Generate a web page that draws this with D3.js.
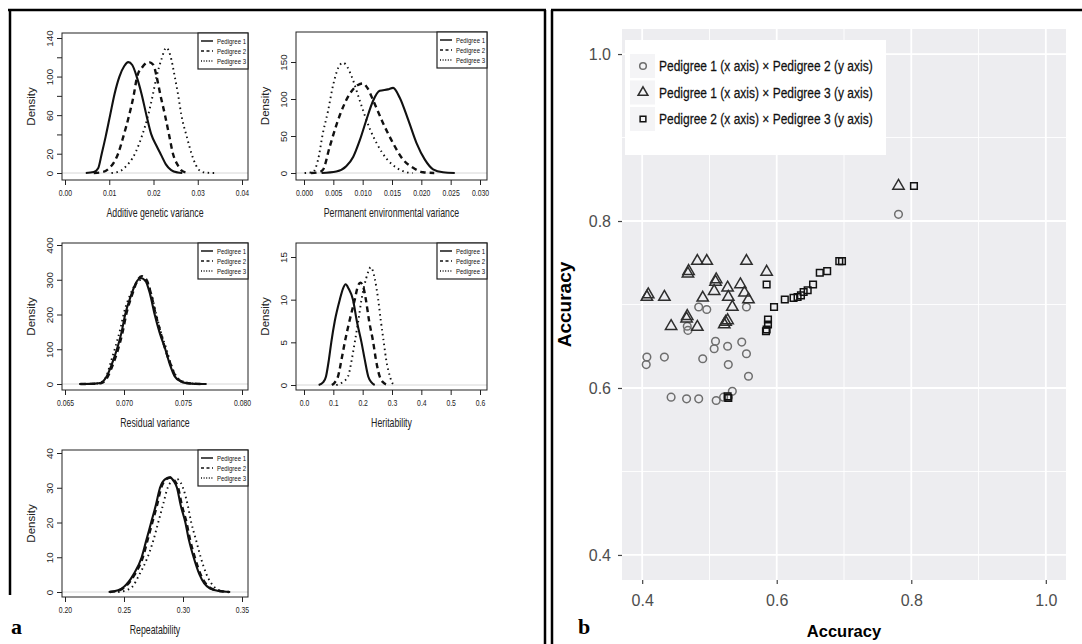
<!DOCTYPE html>
<html>
<head>
<meta charset="utf-8">
<script src="https://cdn.jsdelivr.net/npm/d3@7"></script>
<style>
  body { margin: 0; background: #fff; }
  svg { display: block; font-family: "Liberation Sans", Arial, sans-serif; }
</style>
</head>
<body>
<svg id="fig" width="1082" height="644"></svg>
<script>
// ---- panel a: posterior densities, [value, density] ----
const pedigrees = ['Pedigree 1', 'Pedigree 2', 'Pedigree 3'];

const agvP1 = [[0.0047,0],[0.0065,1],[0.0075,5],[0.0083,20],[0.0092,38],[0.0102,60],[0.0112,82],[0.0123,100],[0.0134,111],[0.0143,115],[0.0152,112],[0.0162,100],[0.0173,82],[0.0184,60],[0.0195,40],[0.0207,28],[0.0218,18],[0.0228,9],[0.0240,3],[0.0255,0.5],[0.0265,0]];
const agvP2 = [[0.0065,0],[0.0085,1],[0.0100,5],[0.0112,12],[0.0120,20],[0.0132,38],[0.0145,60],[0.0155,80],[0.0163,100],[0.0175,110],[0.0190,115],[0.0200,112],[0.0207,100],[0.0216,80],[0.0226,60],[0.0235,40],[0.0244,20],[0.0255,8],[0.0265,2],[0.0280,0]];
const agvP3 = [[0.0105,0],[0.0125,2],[0.0140,8],[0.0152,15],[0.0160,22],[0.0175,40],[0.0188,60],[0.0198,80],[0.0207,100],[0.0218,118],[0.0229,130],[0.0238,122],[0.0248,100],[0.0256,80],[0.0263,60],[0.0275,38],[0.0286,20],[0.0296,8],[0.0306,2],[0.0320,0.3],[0.0340,0]];

const pevP1 = [[0.0030,0],[0.0055,2],[0.0072,9],[0.0084,22],[0.0095,44],[0.0106,71],[0.0118,98],[0.0129,111],[0.0143,113],[0.0152,115],[0.0163,102],[0.0178,71],[0.0192,40],[0.0206,18],[0.0220,5],[0.0237,1],[0.0257,0]];
const pevP2 = [[0.0012,0],[0.0025,1],[0.0032,4],[0.0044,36],[0.0061,78],[0.0078,107],[0.0092,119],[0.0100,121],[0.0108,115],[0.0118,98],[0.0135,67],[0.0152,40],[0.0169,18],[0.0186,7],[0.0203,1],[0.0222,0]];
const pevP3 = [[0.0001,0],[0.0015,1],[0.0024,18],[0.0032,53],[0.0041,84],[0.0050,120],[0.0061,146],[0.0067,149],[0.0074,143],[0.0081,131],[0.0095,98],[0.0112,60],[0.0124,40],[0.0141,19],[0.0158,7],[0.0175,1],[0.0185,0]];

const resP1 = [[0.0662,0],[0.0672,0.5],[0.0680,3],[0.0685,20],[0.0690,60],[0.0694,100],[0.0698,150],[0.0701,200],[0.0706,255],[0.0710,290],[0.0714,305],[0.0718,298],[0.0722,260],[0.0726,200],[0.0730,150],[0.0735,100],[0.0739,55],[0.0743,22],[0.0748,8],[0.0752,3],[0.0760,0.5],[0.0770,0]];
const resP2 = [[0.0663,0],[0.0673,0.5],[0.0681,3],[0.0686,20],[0.0691,60],[0.0695,100],[0.0699,152],[0.0702,202],[0.0707,258],[0.0711,295],[0.0715,310],[0.0719,300],[0.0723,258],[0.0727,198],[0.0731,148],[0.0735,100],[0.0740,52],[0.0744,20],[0.0749,7],[0.0753,3],[0.0761,0.5],[0.0768,0]];
const resP3 = [[0.0664,0],[0.0673,0.5],[0.0680,4],[0.0685,22],[0.0689,65],[0.0693,110],[0.0697,160],[0.0700,205],[0.0705,255],[0.0710,288],[0.0715,300],[0.0719,296],[0.0723,262],[0.0727,205],[0.0731,152],[0.0736,100],[0.0740,55],[0.0744,24],[0.0749,9],[0.0754,3],[0.0762,0.5],[0.0770,0]];

const herP1 = [[0.050,0],[0.065,0.3],[0.075,1],[0.085,3],[0.093,5],[0.105,7.5],[0.122,10],[0.133,11.3],[0.142,11.8],[0.152,11.3],[0.167,10],[0.180,7.5],[0.196,5],[0.207,3],[0.219,1],[0.230,0.3],[0.241,0]];
const herP2 = [[0.095,0],[0.105,0.3],[0.116,1],[0.128,3],[0.139,5],[0.155,7.5],[0.173,10],[0.183,11.5],[0.192,12],[0.202,11.5],[0.211,10],[0.222,7.5],[0.236,5],[0.245,3],[0.258,1],[0.270,0.3],[0.287,0]];
const herP3 = [[0.110,0],[0.130,0.3],[0.150,1],[0.163,3],[0.173,5],[0.185,7.5],[0.196,10],[0.212,12.5],[0.228,13.8],[0.241,12.5],[0.253,10],[0.262,7.5],[0.272,5],[0.280,3],[0.293,1],[0.300,0.3],[0.307,0]];

const repP1 = [[0.237,0],[0.245,0.5],[0.250,1.5],[0.258,5],[0.265,10],[0.269,15],[0.273,20],[0.277,25],[0.2805,30],[0.285,32.5],[0.289,33],[0.292,32],[0.2949,30],[0.298,25],[0.302,20],[0.305,15],[0.309,10],[0.314,5],[0.318,2.5],[0.323,1],[0.330,0.3],[0.340,0]];
const repP2 = [[0.238,0],[0.246,0.5],[0.251,1.5],[0.259,5],[0.266,10],[0.270,15],[0.274,20],[0.278,25],[0.2815,30],[0.286,32.5],[0.290,33],[0.293,32],[0.2959,30],[0.299,25],[0.303,20],[0.306,15],[0.310,10],[0.315,5],[0.319,2.5],[0.324,1],[0.331,0.3],[0.339,0]];
const repP3 = [[0.245,0],[0.252,0.5],[0.257,1.5],[0.263,5],[0.270,10],[0.275,15],[0.279,20],[0.283,25],[0.287,30],[0.291,32],[0.295,32.5],[0.298,31.5],[0.300,30],[0.304,25],[0.307,20],[0.311,15],[0.315,10],[0.320,5],[0.324,2.5],[0.328,1],[0.333,0.3],[0.336,0]];

// ---- panel b: accuracy pairs ----
const seriesNames = ['Pedigree 1 (x axis) \u00d7 Pedigree 2 (y axis)',
                     'Pedigree 1 (x axis) \u00d7 Pedigree 3 (y axis)',
                     'Pedigree 2 (x axis) \u00d7 Pedigree 3 (y axis)'];
const acc12 = [[0.781,0.808],[0.407,0.637],[0.406,0.628],[0.433,0.637],[0.490,0.635],[0.509,0.656],[0.507,0.647],[0.527,0.650],[0.548,0.655],[0.555,0.641],[0.528,0.628],[0.558,0.614],[0.443,0.589],[0.466,0.587],[0.484,0.587],[0.510,0.585],[0.521,0.589],[0.528,0.589],[0.534,0.596],[0.484,0.697],[0.496,0.694],[0.467,0.674],[0.468,0.669],[0.555,0.697]];
const acc13 = [[0.781,0.842],[0.482,0.752],[0.496,0.752],[0.469,0.740],[0.468,0.737],[0.407,0.709],[0.409,0.712],[0.433,0.709],[0.490,0.708],[0.443,0.674],[0.466,0.683],[0.467,0.686],[0.482,0.673],[0.555,0.752],[0.585,0.739],[0.509,0.727],[0.510,0.730],[0.507,0.716],[0.527,0.720],[0.528,0.709],[0.546,0.724],[0.552,0.714],[0.558,0.706],[0.534,0.697],[0.524,0.679],[0.522,0.676],[0.527,0.681]];
const acc23 = [[0.804,0.842],[0.585,0.724],[0.596,0.697],[0.587,0.682],[0.587,0.676],[0.585,0.670],[0.584,0.668],[0.612,0.706],[0.625,0.708],[0.631,0.709],[0.636,0.711],[0.640,0.715],[0.646,0.717],[0.654,0.724],[0.664,0.738],[0.675,0.740],[0.693,0.752],[0.697,0.752],[0.527,0.590],[0.528,0.588]];
const accTicks = [0.4, 0.6, 0.8, 1.0];
const accMinor = [0.5, 0.7, 0.9];

const svg = d3.select('#fig');
const SQ_A = 0.7;   // the left figure is horizontally squeezed

// panel frames
const frame = svg.append('g').attr('stroke', '#000').attr('stroke-width', 2.5);
frame.append('line').attr('x1', 8).attr('x2', 546).attr('y1', 10).attr('y2', 10);
frame.append('line').attr('x1', 10).attr('x2', 10).attr('y1', 10).attr('y2', 595);
frame.append('line').attr('x1', 545).attr('x2', 545).attr('y1', 10).attr('y2', 644);
frame.append('line').attr('x1', 551).attr('x2', 1082).attr('y1', 10).attr('y2', 10);
frame.append('line').attr('x1', 552).attr('x2', 552).attr('y1', 10).attr('y2', 644);

const lineStyles = [
  { w: 2.1, dash: null },
  { w: 2.4, dash: '5.5,4' },
  { w: 1.9, dash: '1.5,3.5' }
];

function densityPlot(p) {
  const g = svg.append('g');
  const [L, T, R, B] = p.box;
  const x = d3.scaleLinear().domain(p.xDom).range(p.xPx);
  const y = d3.scaleLinear().domain(p.yDom).range(p.yPx);

  g.append('line').attr('x1', L).attr('x2', R).attr('y1', y(0)).attr('y2', y(0))
    .attr('stroke', '#d6d6d6').attr('stroke-width', 1);

  const line = d3.line().x(d => x(d[0])).y(d => y(d[1])).curve(d3.curveMonotoneX);
  p.series.forEach((s, i) => {
    g.append('path').attr('d', line(s)).attr('fill', 'none')
      .attr('stroke', '#111').attr('stroke-width', lineStyles[i].w)
      .attr('stroke-dasharray', lineStyles[i].dash);
  });

  g.append('rect').attr('x', L).attr('y', T).attr('width', R - L).attr('height', B - T)
    .attr('fill', 'none').attr('stroke', '#222').attr('stroke-width', 1);

  // x axis
  const xa = g.append('g').attr('transform', `translate(0,${B})`)
    .call(d3.axisBottom(x).tickValues(p.xTicks).tickFormat(d3.format(p.xFmt)).tickSize(5).tickPadding(4));
  xa.select('.domain').remove();
  xa.selectAll('line').attr('stroke', '#222');
  xa.selectAll('text').attr('font-size', 9.8).attr('fill', '#222').attr('font-family', null)
    .attr('transform', `scale(${SQ_A},1)`);

  // y axis, labels rotated like base R
  const ya = g.append('g').attr('transform', `translate(${L},0)`)
    .call(d3.axisLeft(y).tickValues(p.yTicks)
      .tickFormat(d => p.yLabels.includes(d) ? d : '').tickSize(5));
  ya.select('.domain').remove();
  ya.selectAll('line').attr('stroke', '#222');
  ya.selectAll('text').attr('font-size', 9.8).attr('fill', '#222').attr('font-family', null)
    .attr('text-anchor', 'middle').attr('transform', 'rotate(-90)')
    .attr('x', 0).attr('y', -9).attr('dy', 0);

  g.append('text').attr('transform', `translate(${L - 27},${(T + B) / 2}) rotate(-90)`)
    .attr('text-anchor', 'middle').attr('font-size', 11.5).attr('fill', '#222').text('Density');
  g.append('text').attr('transform', `translate(${(L + R) / 2},${B + 37}) scale(${SQ_A},1)`)
    .attr('text-anchor', 'middle').attr('font-size', 12.5).attr('fill', '#222').text(p.xLabel);

  // legend
  const lg = g.append('g').attr('transform', `translate(${R - 50},${T})`);
  lg.append('rect').attr('width', 50).attr('height', 36).attr('fill', '#fff')
    .attr('stroke', '#222').attr('stroke-width', 1.2);
  pedigrees.forEach((name, i) => {
    const yy = 8 + i * 10;
    lg.append('line').attr('x1', 3).attr('x2', 15).attr('y1', yy).attr('y2', yy)
      .attr('stroke', '#111').attr('stroke-width', lineStyles[i].w * 0.7)
      .attr('stroke-dasharray', i === 1 ? '3,2.5' : i === 2 ? '1,1.6' : null);
    lg.append('text').attr('transform', `translate(19,${yy + 2.8}) scale(0.75,1)`)
      .attr('font-size', 8).attr('fill', '#111').text(name);
  });
}

densityPlot({
  box: [62, 33, 248, 180], xDom: [0, 0.04], xPx: [65, 242], yDom: [0, 140], yPx: [173, 38],
  xTicks: [0, 0.01, 0.02, 0.03, 0.04], xFmt: '.2f',
  yTicks: d3.range(0, 141, 20), yLabels: [0, 20, 60, 100, 140],
  xLabel: 'Additive genetic variance', series: [agvP1, agvP2, agvP3]
});
densityPlot({
  box: [296, 32, 487, 180], xDom: [0, 0.03], xPx: [304, 480], yDom: [0, 150], yPx: [173, 62],
  xTicks: d3.range(0, 0.0301, 0.005), xFmt: '.3f',
  yTicks: [0, 50, 100, 150], yLabels: [0, 50, 100, 150],
  xLabel: 'Permanent environmental variance', series: [pevP1, pevP2, pevP3]
});
densityPlot({
  box: [62, 243, 248, 390], xDom: [0.065, 0.080], xPx: [65, 242], yDom: [0, 400], yPx: [384, 245],
  xTicks: [0.065, 0.070, 0.075, 0.080], xFmt: '.3f',
  yTicks: [0, 100, 200, 300, 400], yLabels: [0, 100, 200, 300, 400],
  xLabel: 'Residual variance', series: [resP1, resP2, resP3]
});
densityPlot({
  box: [296, 243, 487, 390], xDom: [0, 0.6], xPx: [304, 480], yDom: [0, 15], yPx: [385, 257],
  xTicks: [0, 0.1, 0.2, 0.3, 0.4, 0.5, 0.6], xFmt: '.1f',
  yTicks: [0, 5, 10, 15], yLabels: [0, 5, 10, 15],
  xLabel: 'Heritability', series: [herP1, herP2, herP3]
});
densityPlot({
  box: [62, 450, 248, 597], xDom: [0.20, 0.35], xPx: [65, 242], yDom: [0, 40], yPx: [592, 453],
  xTicks: [0.20, 0.25, 0.30, 0.35], xFmt: '.2f',
  yTicks: [0, 10, 20, 30, 40], yLabels: [0, 10, 20, 30, 40],
  xLabel: 'Repeatability', series: [repP1, repP2, repP3]
});

// ---- panel b ----
const bx = d3.scaleLinear().domain([0.37, 1.03]).range([622, 1066]);
const by = d3.scaleLinear().domain([0.37, 1.03]).range([580, 29]);
const pb = svg.append('g');
pb.append('rect').attr('x', bx.range()[0]).attr('y', by.range()[1])
  .attr('width', bx.range()[1] - bx.range()[0]).attr('height', by.range()[0] - by.range()[1])
  .attr('fill', '#ededf0');

accMinor.forEach(v => {
  pb.append('line').attr('x1', bx(v)).attr('x2', bx(v)).attr('y1', by.range()[0]).attr('y2', by.range()[1])
    .attr('stroke', '#fff').attr('stroke-width', 0.9);
  pb.append('line').attr('y1', by(v)).attr('y2', by(v)).attr('x1', bx.range()[0]).attr('x2', bx.range()[1])
    .attr('stroke', '#fff').attr('stroke-width', 0.9);
});
accTicks.forEach(v => {
  pb.append('line').attr('x1', bx(v)).attr('x2', bx(v)).attr('y1', by.range()[0]).attr('y2', by.range()[1])
    .attr('stroke', '#fff').attr('stroke-width', 1.8);
  pb.append('line').attr('y1', by(v)).attr('y2', by(v)).attr('x1', bx.range()[0]).attr('x2', bx.range()[1])
    .attr('stroke', '#fff').attr('stroke-width', 1.8);
});

const bxa = pb.append('g').attr('transform', `translate(0,${by.range()[0]})`)
  .call(d3.axisBottom(bx).tickValues(accTicks).tickFormat(d3.format('.1f')).tickSize(4).tickPadding(11));
const bya = pb.append('g').attr('transform', `translate(${bx.range()[0]},0)`)
  .call(d3.axisLeft(by).tickValues(accTicks).tickFormat(d3.format('.1f')).tickSize(4).tickPadding(7));
[bxa, bya].forEach(a => {
  a.select('.domain').remove();
  a.selectAll('line').attr('stroke', '#444').attr('stroke-width', 1.2);
  a.selectAll('text').attr('font-size', 16).attr('fill', '#4d4d4d').attr('font-family', null);
});

pb.append('text').attr('x', (bx.range()[0] + bx.range()[1]) / 2).attr('y', 637)
  .attr('text-anchor', 'middle').attr('font-size', 16.5).attr('font-weight', 'bold')
  .attr('fill', '#000').text('Accuracy');
pb.append('text').attr('transform', `translate(571,${(by.range()[0] + by.range()[1]) / 2}) rotate(-90)`)
  .attr('text-anchor', 'middle').attr('font-size', 19).attr('font-weight', 'bold')
  .attr('fill', '#000').text('Accuracy');

const shapes = [d3.symbolCircle, d3.symbolTriangle, d3.symbolSquare];
const shapeSize = [46, 56, 44];
const shapeColor = ['#6e6e6e', '#2e2e2e', '#111'];
[acc12, acc13, acc23].forEach((pts, i) => {
  pb.append('g').selectAll('path').data(pts).enter().append('path')
    .attr('d', d3.symbol().type(shapes[i]).size(shapeSize[i]))
    .attr('transform', d => `translate(${bx(d[0])},${by(d[1])})`)
    .attr('fill', 'none').attr('stroke', shapeColor[i]).attr('stroke-width', 1.5);
});

// legend inside the panel
const blg = pb.append('g').attr('transform', 'translate(625,40)');
blg.append('rect').attr('width', 261).attr('height', 115).attr('fill', '#fff');
seriesNames.forEach((name, i) => {
  const yy = 26 + i * 26.5;
  blg.append('rect').attr('x', 5).attr('y', yy - 12).attr('width', 25).attr('height', 24).attr('fill', '#f4f4f6');
  blg.append('path').attr('d', d3.symbol().type(shapes[i]).size(shapeSize[i] * 0.75))
    .attr('transform', `translate(18,${yy})`).attr('fill', 'none')
    .attr('stroke', shapeColor[i]).attr('stroke-width', 1.5);
  blg.append('text').attr('transform', `translate(34,${yy + 5}) scale(0.8,1)`)
    .attr('font-size', 15).attr('fill', '#111').attr('stroke', '#111').attr('stroke-width', 0.25)
    .text(name);
});

// panel letters
svg.append('text').attr('x', 11).attr('y', 634).attr('font-family', '"Liberation Serif", serif')
  .attr('font-weight', 'bold').attr('font-size', 22).text('a');
svg.append('text').attr('x', 578).attr('y', 634).attr('font-family', '"Liberation Serif", serif')
  .attr('font-weight', 'bold').attr('font-size', 22).text('b');
</script>
</body>
</html>
